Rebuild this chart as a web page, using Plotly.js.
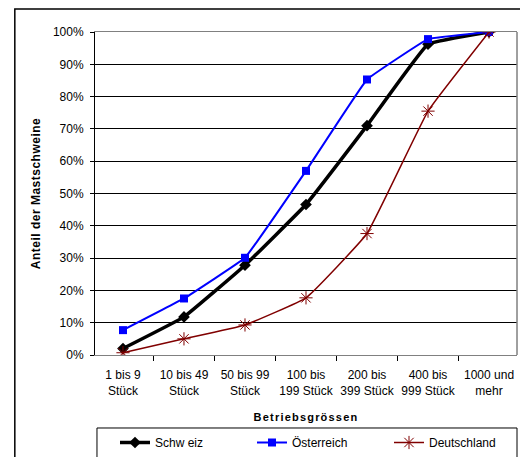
<!DOCTYPE html>
<html><head><meta charset="utf-8">
<script src="https://cdn.plot.ly/plotly-3.0.1.min.js"></script>
<style>body{margin:0;background:#fff}#c{width:520px;height:457px}</style>
</head><body><div id="c"></div>
<script>
const categories = ["1 bis 9<br>Stück","10 bis 49<br>Stück","50 bis 99<br>Stück","100 bis<br>199 Stück","200 bis<br>399 Stück","400 bis<br>999 Stück","1000 und<br>mehr"];
const schweiz = [0.02, 0.118, 0.278, 0.466, 0.71, 0.962, 1.0];
const oesterreich = [0.077, 0.175, 0.301, 0.57, 0.853, 0.978, 1.0];
const deutschland = [0.007, 0.05, 0.093, 0.177, 0.376, 0.755, 1.0];
const seriesNames = ["Schw eiz", "Österreich", "Deutschland"];

const traces = [
  {x: categories, y: schweiz, name: seriesNames[0], type:'scatter', mode:'lines+markers',
   line:{color:'#000000', width:3.5, shape:'spline', smoothing:0.25},
   marker:{symbol:'diamond', size:9, color:'#000000'}},
  {x: categories, y: oesterreich, name: seriesNames[1], type:'scatter', mode:'lines+markers',
   line:{color:'#0000ff', width:2, shape:'spline', smoothing:0.2},
   marker:{symbol:'square', size:8, color:'#0000ff'}},
  {x: categories, y: deutschland, name: seriesNames[2], type:'scatter', mode:'lines+markers',
   line:{color:'#800000', width:1.5, shape:'spline', smoothing:0.3},
   marker:{symbol:'asterisk-open', size:11, color:'#800000', line:{color:'#800000', width:1}}}
];

const layout = {
  width:520, height:457,
  margin:{l:95, r:3, t:32, b:102},
  paper_bgcolor:'#ffffff', plot_bgcolor:'#ffffff',
  font:{family:'Liberation Sans, Arial, sans-serif', size:12, color:'#000'},
  showlegend:true,
  legend:{orientation:'h', xref:'container', yref:'container', x:115/520, xanchor:'left', y:1-428/457, yanchor:'top',
    bgcolor:'rgba(0,0,0,0)', borderwidth:0, entrywidth:92, font:{size:12},
    itemwidth:30, tracegroupgap:0},
  xaxis:{type:'category', tickson:'boundaries', ticks:'outside', ticklen:5, tickcolor:'#000',
    showgrid:false, showline:true, linecolor:'#808080', linewidth:1, mirror:true,
    tickfont:{size:12}, tickangle:0, ticklabelstandoff:9, automargin:false,
    title:{text:'Betriebsgrössen', font:{size:11, weight:'bold'}, standoff:16}},
  yaxis:{range:[0,1], dtick:0.1, tickformat:'.0%', ticks:'outside', ticklen:4, tickcolor:'#000',
    showgrid:true, gridcolor:'#000000', gridwidth:1, zeroline:false,
    showline:true, linecolor:'#000', linewidth:1, mirror:false, automargin:false,
    tickfont:{size:12}, ticklabelstandoff:4,
    title:{text:'Anteil der Mastschweine', font:{size:12, weight:'bold'}, standoff:9}},
  shapes:[
    {type:'rect', xref:'paper', yref:'paper', x0:1, x1:1, y0:0, y1:1, line:{color:'#808080', width:1}},
    {type:'rect', xref:'paper', yref:'paper', x0:-0.19, x1:1.2, y0:-0.6, y1:1.0712, line:{color:'#000', width:1.5}, layer:'below'},
    {type:'rect', xref:'paper', yref:'paper', x0:0.0047, x1:1.0, y0:-0.5, y1:-0.226, line:{color:'#000', width:1}}
  ]
};
Plotly.newPlot('c', traces, layout, {staticPlot:true}).then(function(){
  document.querySelectorAll('.xtitle').forEach(function(e){e.style.letterSpacing='1.2px';});
  document.querySelectorAll('.ytitle').forEach(function(e){e.style.letterSpacing='0.5px';});
});
</script></body></html>
